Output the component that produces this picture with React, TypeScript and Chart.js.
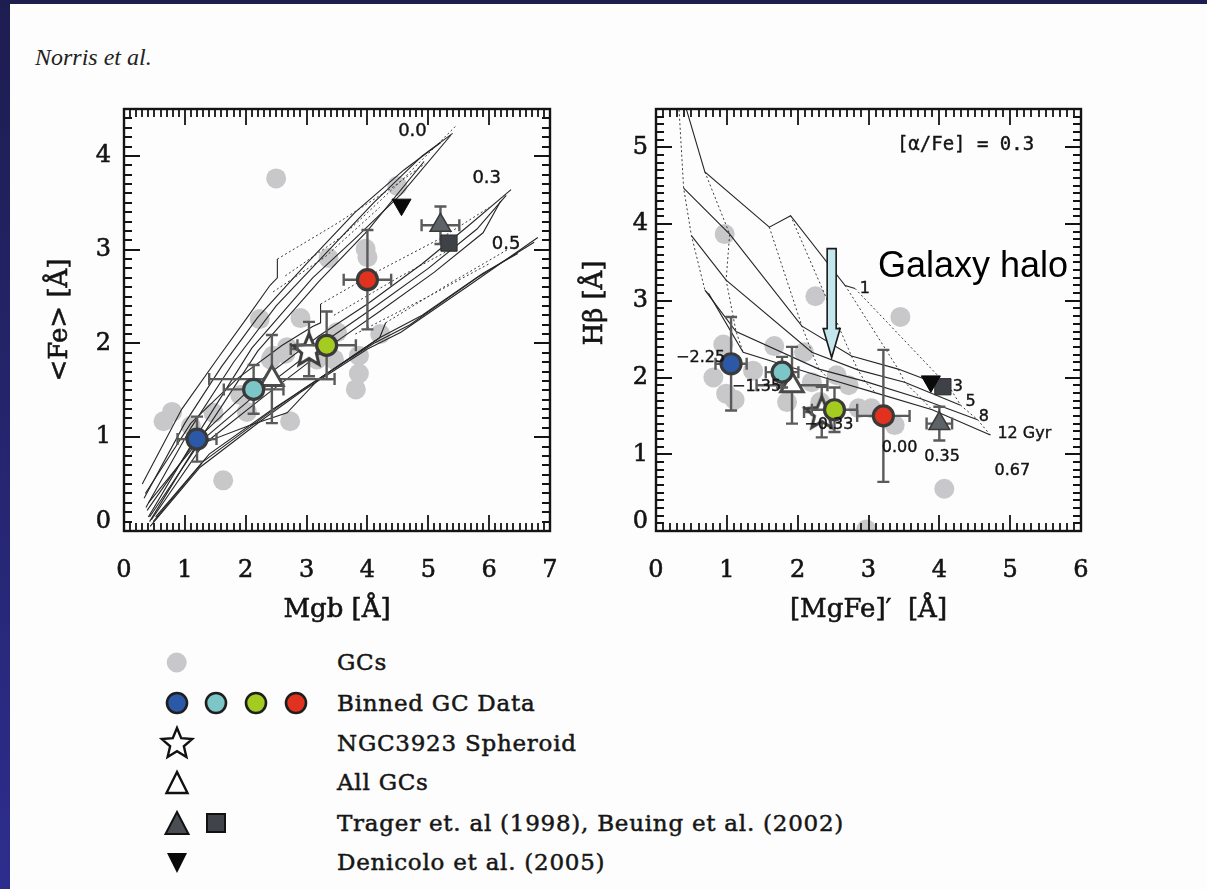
import React, { useEffect, useRef } from "react";
import { Chart, registerables } from "chart.js";

Chart.register(...registerables);

type Pt = [number, number];

// ---------------- Left panel: Mgb vs <Fe> ----------------
const mgbTicks = [0, 1, 2, 3, 4, 5, 6, 7];
const feTicks = [0, 1, 2, 3, 4];

const gcMgb = [2.50, 4.49, 3.36, 3.97, 4.00, 2.23, 2.90, 3.50, 4.21, 2.41, 2.65, 3.45, 3.86, 3.86, 3.81, 1.91, 2.02, 2.73, 0.79, 0.65, 1.47, 1.63, 1.10, 2.45, 2.68, 3.17];
const gcFe = [3.76, 3.68, 2.91, 3.01, 2.92, 2.26, 2.27, 2.12, 2.10, 1.83, 1.89, 1.83, 1.87, 1.68, 1.51, 1.45, 1.27, 1.17, 1.27, 1.17, 1.26, 0.54, 1.12, 1.87, 1.96, 1.83];

const binnedMgb = [1.20, 2.13, 3.33, 4.00];
const binnedFe = [0.98, 1.51, 1.98, 2.68];
const binnedMgbErr = [0.32, 0.49, 0.48, 0.39];
const binnedFeErr = [0.24, 0.26, 0.36, 0.53];

const spheroidMgb = [3.04];
const spheroidFe = [1.94];
const spheroidMgbErr = [0.30];
const spheroidFeErr = [0.29];

const allGcMgb = [2.43];
const allGcFe = [1.62];
const allGcMgbErr = [1.03];
const allGcFeErr = [0.47];

const tragerMgb = [5.20];
const tragerFe = [3.26];
const tragerMgbErr = [0.31];
const tragerFeErr = [0.20];
const beuingMgb = [5.34];
const beuingFe = [3.07];
const denicoloMgb = [4.56];
const denicoloFe = [3.48];

// SSP model grids, one bundle per [alpha/Fe]
const afe00Tracks: Pt[][] = [
  [[0.30, 0.50], [0.95, 1.30], [1.55, 1.85], [2.05, 2.30], [2.40, 2.62], [2.52, 2.70], [2.52, 2.90]],
  [[0.33, 0.35], [1.00, 1.15], [1.60, 1.75], [2.20, 2.28], [3.00, 2.85], [3.80, 3.40], [4.60, 3.85], [5.20, 4.14]],
  [[0.36, 0.25], [1.10, 1.10], [1.80, 1.80], [2.50, 2.40], [3.30, 2.95], [4.10, 3.50], [4.90, 4.00], [5.40, 4.24]],
  [[0.40, 0.15], [1.20, 1.02], [2.10, 1.95], [3.10, 2.70], [3.80, 3.12], [4.55, 3.59], [5.37, 4.22]],
  [[0.42, 0.10], [1.25, 0.98], [2.20, 1.92], [3.20, 2.66], [4.00, 3.20], [4.93, 3.94]],
];
const afe00Iso: Pt[][] = [
  [[2.52, 2.90], [3.50, 3.28], [4.40, 3.66], [4.95, 3.92]],
  [[2.65, 2.72], [3.60, 3.15], [4.50, 3.70], [5.47, 4.33]],
  [[2.45, 2.55], [3.30, 2.92], [4.20, 3.45]],
];
const afe03Tracks: Pt[][] = [
  [[0.35, 0.40], [1.10, 1.15], [1.85, 1.62], [2.60, 1.98], [3.10, 2.18], [3.23, 2.22], [3.23, 2.42]],
  [[0.38, 0.22], [1.20, 0.98], [2.13, 1.55], [3.20, 2.08], [4.00, 2.42], [4.90, 2.85], [5.65, 3.25], [6.36, 3.64]],
  [[0.42, 0.15], [1.25, 0.95], [2.25, 1.50], [3.30, 2.02], [4.10, 2.38], [5.00, 2.80], [5.80, 3.22], [6.28, 3.58]],
  [[0.45, 0.12], [1.30, 0.92], [2.35, 1.46], [3.40, 1.98], [4.20, 2.34], [5.10, 2.76], [5.90, 3.18], [6.19, 3.52]],
];
const afe03Iso: Pt[][] = [
  [[3.23, 2.42], [4.20, 2.78], [5.20, 3.12], [6.00, 3.45]],
  [[3.45, 2.30], [4.50, 2.70], [5.50, 3.05]],
];
const afe05Tracks: Pt[][] = [
  [[0.40, 0.30], [1.15, 0.90], [2.08, 1.13], [2.68, 1.26], [3.20, 1.62], [4.20, 2.06], [4.30, 2.22]],
  [[0.43, 0.05], [1.25, 0.68], [2.24, 1.17], [2.90, 1.48], [4.00, 1.94], [4.55, 2.12], [5.65, 2.61], [6.80, 3.13]],
  [[0.48, 0.10], [1.30, 0.74], [2.30, 1.22], [3.00, 1.54], [4.10, 2.00], [4.70, 2.20], [5.80, 2.70], [6.74, 3.08]],
  [[0.52, 0.15], [1.40, 0.82], [2.40, 1.28], [3.20, 1.62], [4.20, 2.06], [4.90, 2.30], [5.90, 2.75], [6.47, 2.96]],
];
const afe05Iso: Pt[][] = [
  [[4.30, 2.22], [5.30, 2.62], [6.30, 3.00]],
  [[3.80, 2.10], [5.00, 2.50], [6.00, 2.85]],
];

const afeLabels = ["0.0", "0.3", "0.5"];
const afeLabelMgb = [4.74, 5.96, 6.28];
const afeLabelFe = [4.26, 3.76, 3.06];

// ---------------- Right panel: [MgFe]' vs Hbeta ----------------
const mgfeTicks = [0, 1, 2, 3, 4, 5, 6];
const hbTicks = [0, 1, 2, 3, 4, 5];

const gcMgFe = [0.97, 2.25, 3.45, 0.95, 0.81, 0.99, 1.11, 1.37, 1.67, 2.09, 2.20, 1.85, 2.55, 2.72, 2.86, 3.04, 3.37, 4.07, 2.97, 2.32];
const gcHb = [3.87, 3.06, 2.79, 2.43, 2.00, 1.79, 1.71, 2.09, 2.41, 2.33, 1.94, 1.68, 2.03, 1.90, 1.60, 1.60, 1.38, 0.55, 0.02, 1.68];

const binnedMgFe = [1.06, 1.78, 2.52, 3.21];
const binnedHb = [2.18, 2.07, 1.58, 1.50];
const binnedMgFeErr = [0.22, 0.23, 0.32, 0.37];
const binnedHbErr = [0.61, 0.20, 0.29, 0.86];

const spheroidMgFe = [2.34];
const spheroidHb = [1.55];
const spheroidMgFeErr = [0.25];
const spheroidHbErr = [0.33];

const allGcMgFe = [1.92];
const allGcHb = [1.90];
const allGcMgFeErr = [0.50];
const allGcHbErr = [0.50];

const tragerMgFe = [4.00];
const tragerHb = [1.40];
const tragerMgFeErr = [0.18];
const tragerHbErr = [0.22];
const beuingMgFe = [4.05];
const beuingHb = [1.88];
const denicoloMgFe = [3.88];
const denicoloHb = [1.95];

// age tracks (1, 3, 5, 8, 12 Gyr); vertices at [Z/H] = -2.25, -1.35, -0.33, 0.00, 0.35, 0.67
const ageTracks: Pt[][] = [
  [[0.30, 5.90], [0.69, 4.68], [1.60, 3.96], [1.90, 4.11], [2.67, 3.20], [2.81, 3.16]],
  [[0.39, 4.47], [1.04, 3.87], [2.06, 2.67], [2.76, 2.28], [3.42, 2.11], [4.16, 1.85]],
  [[0.50, 3.85], [0.99, 3.27], [2.20, 2.33], [2.85, 2.10], [3.51, 1.94], [4.30, 1.64]],
  [[0.69, 3.14], [1.13, 2.60], [2.30, 2.11], [2.95, 1.95], [3.75, 1.72], [4.54, 1.45]],
  [[0.74, 3.10], [1.23, 2.33], [2.44, 1.98], [3.10, 1.80], [3.90, 1.58], [4.72, 1.25]],
];

const ageLabels = ["1", "3", "5", "8", "12 Gyr"];
const ageLabelMgFe = [2.95, 4.26, 4.44, 4.63, 5.20];
const ageLabelHb = [3.16, 1.88, 1.68, 1.49, 1.27];

const metalLabels = ["\u22122.25", "\u22121.35", "\u22120.33", "0.00", "0.35", "0.67"];
const metalLabelMgFe = [0.63, 1.42, 2.44, 3.44, 4.04, 5.03];
const metalLabelHb = [2.26, 1.88, 1.39, 1.08, 0.97, 0.78];

const haloArrowMgFe = 2.48;
const haloArrowFrom = 3.68;
const haloArrowTo = 2.26;

// ---------------- styling ----------------
const binnedColors = ["#2c58a8", "#7cc6c8", "#a4cc20", "#e0321e"];
const gcGrey = "#c8c8ca";
const ink = "#141414";
const errInk = "#5a5a5a";
const serif = "DejaVu Serif";

const pts = (xs: number[], ys: number[]) => xs.map((x, i) => ({ x, y: ys[i] }));
const poly = (p: Pt[]) => p.map(([x, y]) => ({ x, y }));

function starImage(outer: number, fill: string, stroke: string, lw: number) {
  const size = Math.ceil(2 * (outer + lw + 2));
  const c = document.createElement("canvas");
  c.width = size;
  c.height = size;
  const g = c.getContext("2d")!;
  g.translate(size / 2, size / 2 + outer * 0.1);
  g.beginPath();
  for (let k = 0; k < 10; k++) {
    const r = k % 2 === 0 ? outer : outer * 0.45;
    const a = -Math.PI / 2 + (k * Math.PI) / 5;
    if (k === 0) g.moveTo(r * Math.cos(a), r * Math.sin(a));
    else g.lineTo(r * Math.cos(a), r * Math.sin(a));
  }
  g.closePath();
  g.fillStyle = fill;
  g.fill();
  g.lineWidth = lw;
  g.lineJoin = "miter";
  g.strokeStyle = stroke;
  g.stroke();
  return c;
}

// text with a hairline outline so it reads a little heavier
function heavyText(ctx: CanvasRenderingContext2D, t: string, x: number, y: number) {
  ctx.fillText(t, x, y);
  ctx.strokeText(t, x, y);
}

// boxed frame with inward major/minor ticks, tick labels and axis titles
function framePlugin(o: {
  xTicks: number[]; yTicks: number[]; xMinor: number; yMinor: number;
  xTitle: string; yTitle: string; yGap: number; yTitleOffset: number; yTitleShift: number;
}) {
  return {
    id: "frame",
    afterDatasetsDraw(chart: any) {
      const { ctx, chartArea: a, scales } = chart;
      const xs = scales.x;
      const ys = scales.y;
      ctx.save();
      ctx.strokeStyle = ink;
      ctx.lineWidth = 1.8;
      const major = 16;
      const minor = 8;
      const i0 = Math.ceil(xs.min / o.xMinor - 1e-6);
      const i1 = Math.floor(xs.max / o.xMinor + 1e-6);
      for (let i = i0; i <= i1; i++) {
        const v = i * o.xMinor;
        const len = Math.abs(v - Math.round(v)) < 1e-6 ? major : minor;
        const px = Math.round(xs.getPixelForValue(v));
        ctx.beginPath();
        ctx.moveTo(px, a.bottom);
        ctx.lineTo(px, a.bottom - len);
        ctx.moveTo(px, a.top);
        ctx.lineTo(px, a.top + len);
        ctx.stroke();
      }
      const j0 = Math.ceil(ys.min / o.yMinor - 1e-6);
      const j1 = Math.floor(ys.max / o.yMinor + 1e-6);
      for (let j = j0; j <= j1; j++) {
        const v = j * o.yMinor;
        const len = Math.abs(v - Math.round(v)) < 1e-6 ? major : minor;
        const py = Math.round(ys.getPixelForValue(v));
        ctx.beginPath();
        ctx.moveTo(a.left, py);
        ctx.lineTo(a.left + len, py);
        ctx.moveTo(a.right, py);
        ctx.lineTo(a.right - len, py);
        ctx.stroke();
      }
      ctx.lineWidth = 2.4;
      ctx.strokeRect(a.left, a.top, a.right - a.left, a.bottom - a.top);

      // tick labels
      ctx.fillStyle = ink;
      ctx.lineWidth = 0.6;
      ctx.font = `24px "${serif}"`;
      ctx.textBaseline = "middle";
      ctx.textAlign = "center";
      o.xTicks.forEach((v) => heavyText(ctx, String(v), xs.getPixelForValue(v), a.bottom + 40));
      ctx.textAlign = "right";
      o.yTicks.forEach((v) => {
        const lift = v === ys.min ? 9 : 0;
        heavyText(ctx, String(v), a.left - o.yGap, ys.getPixelForValue(v) - lift);
      });

      // axis titles
      ctx.font = `26px "${serif}"`;
      ctx.textAlign = "center";
      heavyText(ctx, o.xTitle, (a.left + a.right) / 2, a.bottom + 79);
      ctx.translate(a.left - o.yTitleOffset, (a.top + a.bottom) / 2 - o.yTitleShift);
      ctx.rotate(-Math.PI / 2);
      heavyText(ctx, o.yTitle, 0, 0);
      ctx.restore();
    },
  };
}

// error bars drawn right before the marker dataset that owns them
const errorBarPlugin = {
  id: "errorBars",
  beforeDatasetDraw(chart: any, args: any) {
    const ds = chart.data.datasets[args.index];
    if (!ds.errX && !ds.errY) return;
    const { ctx, scales } = chart;
    const xs = scales.x;
    const ys = scales.y;
    const cap = 6;
    ctx.save();
    ctx.strokeStyle = errInk;
    ctx.lineWidth = 2.4;
    ds.data.forEach((p: any, i: number) => {
      const cx = xs.getPixelForValue(p.x);
      const cy = ys.getPixelForValue(p.y);
      if (ds.errX) {
        const l = xs.getPixelForValue(p.x - ds.errX[i]);
        const r = xs.getPixelForValue(p.x + ds.errX[i]);
        ctx.beginPath();
        ctx.moveTo(l, cy);
        ctx.lineTo(r, cy);
        ctx.moveTo(l, cy - cap);
        ctx.lineTo(l, cy + cap);
        ctx.moveTo(r, cy - cap);
        ctx.lineTo(r, cy + cap);
        ctx.stroke();
      }
      if (ds.errY) {
        const t = ys.getPixelForValue(p.y + ds.errY[i]);
        const b = ys.getPixelForValue(p.y - ds.errY[i]);
        ctx.beginPath();
        ctx.moveTo(cx, t);
        ctx.lineTo(cx, b);
        ctx.moveTo(cx - cap, t);
        ctx.lineTo(cx + cap, t);
        ctx.moveTo(cx - cap, b);
        ctx.lineTo(cx + cap, b);
        ctx.stroke();
      }
    });
    ctx.restore();
  },
};

type TextGroup = { text: string[]; xs: number[]; ys: number[]; font: string };

function textPlugin(groups: TextGroup[], arrow?: { x: number; from: number; to: number }) {
  return {
    id: "textMarks",
    afterDatasetsDraw(chart: any) {
      const { ctx, scales } = chart;
      const xs = scales.x;
      const ys = scales.y;
      ctx.save();
      for (const g of groups) {
        ctx.font = g.font;
        ctx.fillStyle = ink;
        ctx.strokeStyle = ink;
        ctx.lineWidth = 0.4;
        ctx.textAlign = "center";
        ctx.textBaseline = "middle";
        g.text.forEach((t, i) => heavyText(ctx, t, xs.getPixelForValue(g.xs[i]), ys.getPixelForValue(g.ys[i])));
      }
      if (arrow) {
        const ax = xs.getPixelForValue(arrow.x);
        const y0 = ys.getPixelForValue(arrow.from);
        const y1 = ys.getPixelForValue(arrow.to);
        const sw = 4.5;
        const hw = 8.5;
        const hl = 29;
        ctx.beginPath();
        ctx.moveTo(ax - sw, y0);
        ctx.lineTo(ax + sw, y0);
        ctx.lineTo(ax + sw, y1 - hl);
        ctx.lineTo(ax + hw, y1 - hl);
        ctx.lineTo(ax, y1);
        ctx.lineTo(ax - hw, y1 - hl);
        ctx.lineTo(ax - sw, y1 - hl);
        ctx.closePath();
        ctx.fillStyle = "#c4e7ee";
        ctx.fill();
        ctx.lineWidth = 1.6;
        ctx.strokeStyle = "#1a1a1a";
        ctx.stroke();
      }
      ctx.restore();
    },
  };
}

function lineSet(p: Pt[], dotted: boolean) {
  return {
    data: poly(p),
    showLine: true,
    pointRadius: 0,
    borderColor: dotted ? "#3a3a3a" : "#262626",
    borderWidth: dotted ? 1 : 1.1,
    borderDash: dotted ? [2, 2.5] : [],
    tension: 0,
    fill: false,
    clip: 0,
    order: 20,
  };
}

function markerSets(o: {
  gcX: number[]; gcY: number[];
  binX: number[]; binY: number[]; binEX: number[]; binEY: number[];
  spX: number[]; spY: number[]; spEX: number[]; spEY: number[];
  allX: number[]; allY: number[]; allEX: number[]; allEY: number[];
  trX: number[]; trY: number[]; trEX: number[]; trEY: number[];
  beX: number[]; beY: number[]; deX: number[]; deY: number[];
  star: HTMLCanvasElement;
}) {
  return [
    { data: pts(o.gcX, o.gcY), pointRadius: 10, backgroundColor: gcGrey, borderWidth: 0, clip: 0, order: 30 },
    {
      data: pts(o.allX, o.allY), errX: o.allEX, errY: o.allEY, pointStyle: "triangle", pointRadius: 13,
      backgroundColor: "#ffffff", borderColor: "#4a4a4a", borderWidth: 3, clip: 0, order: 6,
    },
    {
      data: pts(o.spX, o.spY), errX: o.spEX, errY: o.spEY, pointStyle: o.star, pointRadius: 18, clip: 0, order: 5,
    },
    {
      data: pts(o.trX, o.trY), errX: o.trEX, errY: o.trEY, pointStyle: "triangle", pointRadius: 12,
      backgroundColor: "#5e6367", borderColor: "#3a3a3a", borderWidth: 1.5, clip: 0, order: 4,
    },
    {
      data: pts(o.beX, o.beY), pointStyle: "rect", pointRadius: 11.5,
      backgroundColor: "#3e4246", borderColor: "#2e2e2e", borderWidth: 1, clip: 0, order: 3,
    },
    {
      data: pts(o.deX, o.deY), pointStyle: "triangle", rotation: 180, pointRadius: 11,
      backgroundColor: "#0a0a0a", borderColor: "#0a0a0a", borderWidth: 1, clip: 0, order: 2,
    },
    {
      data: pts(o.binX, o.binY), errX: o.binEX, errY: o.binEY, pointRadius: 10,
      backgroundColor: binnedColors, borderColor: "#3a3a3a", borderWidth: 3.2, clip: 0, order: 1,
    },
  ];
}

function hiddenScales(xMax: number, yMax: number) {
  return {
    x: { type: "linear", min: 0, max: xMax, display: false },
    y: { type: "linear", min: 0, max: yMax, display: false },
  };
}

export default function App() {
  const leftRef = useRef<HTMLCanvasElement>(null);
  const rightRef = useRef<HTMLCanvasElement>(null);

  useEffect(() => {
    const star = starImage(17, "#ffffff", "#3c3c3c", 3);

    const leftLines = [
      ...afe00Tracks.map((t) => lineSet(t, false)),
      ...afe00Iso.map((t) => lineSet(t, true)),
      ...afe03Tracks.map((t) => lineSet(t, false)),
      ...afe03Iso.map((t) => lineSet(t, true)),
      ...afe05Tracks.map((t) => lineSet(t, false)),
      ...afe05Iso.map((t) => lineSet(t, true)),
    ];

    const left = new Chart(leftRef.current!, {
      type: "scatter",
      data: {
        datasets: [
          ...markerSets({
            gcX: gcMgb, gcY: gcFe,
            binX: binnedMgb, binY: binnedFe, binEX: binnedMgbErr, binEY: binnedFeErr,
            spX: spheroidMgb, spY: spheroidFe, spEX: spheroidMgbErr, spEY: spheroidFeErr,
            allX: allGcMgb, allY: allGcFe, allEX: allGcMgbErr, allEY: allGcFeErr,
            trX: tragerMgb, trY: tragerFe, trEX: tragerMgbErr, trEY: tragerFeErr,
            beX: beuingMgb, beY: beuingFe, deX: denicoloMgb, deY: denicoloFe,
            star,
          }),
          ...leftLines,
        ] as any,
      },
      options: {
        responsive: false,
        animation: false,
        events: [],
        devicePixelRatio: 1,
        layout: { padding: { left: 104, top: 13, right: 30, bottom: 109 } },
        plugins: { legend: { display: false }, tooltip: { enabled: false } },
        scales: hiddenScales(7, 4.5) as any,
      },
      plugins: [
        errorBarPlugin,
        framePlugin({
          xTicks: mgbTicks, yTicks: feTicks, xMinor: 0.1, yMinor: 0.1,
          xTitle: "Mgb [Å]", yTitle: "<Fe> [Å]", yGap: 13, yTitleOffset: 64, yTitleShift: 0,
        }),
        textPlugin([{ text: afeLabels, xs: afeLabelMgb, ys: afeLabelFe, font: `18px "DejaVu Sans"` }]),
      ],
    });

    // dotted iso-metallicity lines join the same vertex across the age tracks
    const isoLines: Pt[][] = ageTracks[0].map((_, k) => ageTracks.map((t) => t[k]));

    const right = new Chart(rightRef.current!, {
      type: "scatter",
      data: {
        datasets: [
          ...markerSets({
            gcX: gcMgFe, gcY: gcHb,
            binX: binnedMgFe, binY: binnedHb, binEX: binnedMgFeErr, binEY: binnedHbErr,
            spX: spheroidMgFe, spY: spheroidHb, spEX: spheroidMgFeErr, spEY: spheroidHbErr,
            allX: allGcMgFe, allY: allGcHb, allEX: allGcMgFeErr, allEY: allGcHbErr,
            trX: tragerMgFe, trY: tragerHb, trEX: tragerMgFeErr, trEY: tragerHbErr,
            beX: beuingMgFe, beY: beuingHb, deX: denicoloMgFe, deY: denicoloHb,
            star,
          }),
          ...ageTracks.map((t) => lineSet(t, false)),
          ...isoLines.map((t) => lineSet(t, true)),
        ] as any,
      },
      options: {
        responsive: false,
        animation: false,
        events: [],
        devicePixelRatio: 1,
        layout: { padding: { left: 96, top: 13, right: 17, bottom: 109 } },
        plugins: { legend: { display: false }, tooltip: { enabled: false } },
        scales: hiddenScales(6, 5.5) as any,
      },
      plugins: [
        errorBarPlugin,
        framePlugin({
          xTicks: mgfeTicks, yTicks: hbTicks, xMinor: 0.1, yMinor: 0.1,
          xTitle: "[MgFe]\u2032  [Å]", yTitle: "Hβ [Å]", yGap: 8, yTitleOffset: 61, yTitleShift: 17,
        }),
        textPlugin(
          [
            { text: ageLabels, xs: ageLabelMgFe, ys: ageLabelHb, font: `16px "DejaVu Sans"` },
            { text: metalLabels, xs: metalLabelMgFe, ys: metalLabelHb, font: `16px "DejaVu Sans"` },
            { text: ["[α/Fe] = 0.3"], xs: [4.37], ys: [5.03], font: `19px "DejaVu Sans Mono"` },
          ],
          { x: haloArrowMgFe, from: haloArrowFrom, to: haloArrowTo }
        ),
      ],
    });

    return () => {
      left.destroy();
      right.destroy();
    };
  }, []);

  const legendRows = [
    { y: 662, label: "GCs" },
    { y: 703, label: "Binned GC Data" },
    { y: 743, label: "NGC3923 Spheroid" },
    { y: 782, label: "All GCs" },
    { y: 823, label: "Trager et. al (1998), Beuing et al. (2002)" },
    { y: 862, label: "Denicolo et al. (2005)" },
  ];

  const starPts = Array.from({ length: 10 }, (_, k) => {
    const r = k % 2 === 0 ? 16 : 7.2;
    const a = -Math.PI / 2 + (k * Math.PI) / 5;
    return `${(27 + r * Math.cos(a)).toFixed(2)},${(104 + r * Math.sin(a)).toFixed(2)}`;
  }).join(" ");

  return (
    <div style={{ position: "absolute", left: 0, top: 0, width: 1207, height: 889, background: "#fdfdfd", overflow: "hidden" }}>
      <div style={{ position: "absolute", left: 0, top: 0, width: 1207, height: 4, background: "#1d1d50" }} />
      <div style={{ position: "absolute", left: 0, top: 0, width: 10, height: 889, background: "linear-gradient(#1d1d50, #2d2d8e)" }} />
      <div style={{ position: "absolute", left: 35, top: 45, fontFamily: "Liberation Serif", fontStyle: "italic", fontSize: 24, lineHeight: "24px", color: "#222" }}>
        Norris et al.
      </div>
      <canvas ref={leftRef} width={560} height={550} style={{ position: "absolute", left: 20, top: 90, width: 560, height: 550 }} />
      <canvas ref={rightRef} width={540} height={550} style={{ position: "absolute", left: 560, top: 90, width: 540, height: 550 }} />
      <div style={{ position: "absolute", left: 878, top: 247, fontFamily: "Liberation Sans", fontSize: 36, lineHeight: "36px", color: "#000", whiteSpace: "nowrap" }}>
        Galaxy halo
      </div>
      <svg width={170} height={245} style={{ position: "absolute", left: 150, top: 640 }}>
        <circle cx={26.7} cy={22.5} r={10} fill={gcGrey} />
        {binnedColors.map((c, i) => (
          <circle key={c} cx={27 + [0, 39, 79, 119][i]} cy={63} r={10} fill={c} stroke="#1e1e1e" strokeWidth={2.6} />
        ))}
        <polygon points={starPts} fill="#fff" stroke="#111" strokeWidth={2.4} />
        <polygon points="27,132 16.5,153 37.5,153" fill="#fff" stroke="#111" strokeWidth={2.4} strokeLinejoin="miter" />
        <polygon points="27,172 15.5,194 38.5,194" fill="#4a4e52" stroke="#111" strokeWidth={2} />
        <rect x={57} y={174} width={18} height={18} fill="#40444a" stroke="#111" strokeWidth={2} />
        <polygon points="17,213 37,213 27,233" fill="#0a0a0a" />
      </svg>
      {legendRows.map((r) => (
        <div
          key={r.label}
          style={{
            position: "absolute", left: 337, top: r.y - 20, height: 40,
            fontFamily: serif, fontSize: 23, letterSpacing: "0.75px", lineHeight: "40px",
            color: "#161616", WebkitTextStroke: "0.5px #161616", whiteSpace: "nowrap",
          }}
        >
          {r.label}
        </div>
      ))}
    </div>
  );
}
